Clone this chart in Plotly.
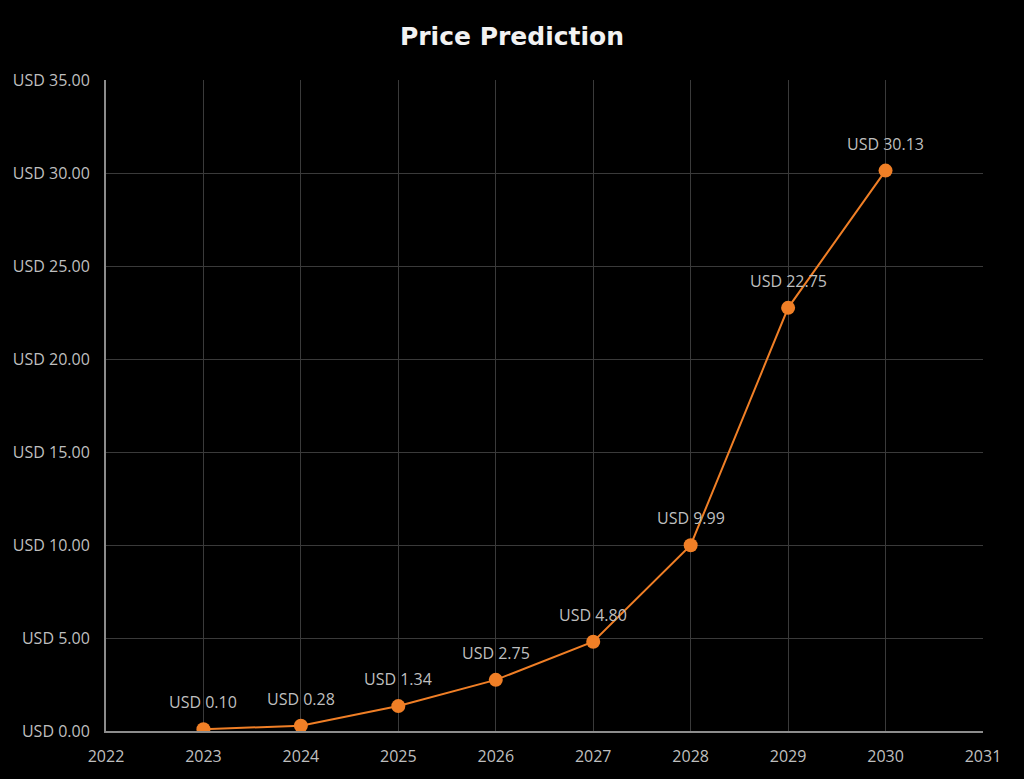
import plotly.graph_objects as go

years = [2023, 2024, 2025, 2026, 2027, 2028, 2029, 2030]
prices = [0.10, 0.28, 1.34, 2.75, 4.80, 9.99, 22.75, 30.13]
labels = ["USD 0.10", "USD 0.28", "USD 1.34", "USD 2.75", "USD 4.80", "USD 9.99", "USD 22.75", "USD 30.13"]
y_ticks = [0, 5, 10, 15, 20, 25, 30, 35]
y_tick_text = ["USD %.2f" % v for v in y_ticks]
x_ticks = list(range(2022, 2032))

orange = "#F07F26"
txt = "#BFBFBF"
fam = "Open Sans, sans-serif"

fig = go.Figure()
fig.add_trace(go.Scatter(
    x=years, y=prices, mode="lines+markers",
    line=dict(color=orange, width=2),
    marker=dict(color=orange, size=14),
    hoverinfo="skip", showlegend=False,
))
for x, y, t in zip(years, prices, labels):
    fig.add_annotation(x=x, y=y, text=t, showarrow=False, yshift=27,
                       font=dict(family=fam, size=16, color=txt))

fig.update_layout(
    width=1024, height=779,
    paper_bgcolor="#000000", plot_bgcolor="#000000",
    margin=dict(l=106, r=41, t=80, b=48),
    title=dict(text="<b>Price Prediction</b>", x=0.5, xanchor="center", y=1 - 36 / 779, yanchor="middle",
               font=dict(family="DejaVu Sans, sans-serif", size=25, color="#F2F2F2")),
    xaxis=dict(range=[2022, 2031], tickvals=x_ticks, ticktext=[str(v) for v in x_ticks],
               showgrid=True, gridcolor="#3A3A3A", gridwidth=1,
               showline=True, linecolor="#8C8C8C", linewidth=2,
               zeroline=False, ticks="", ticklabelstandoff=10,
               tickfont=dict(family=fam, size=16, color=txt)),
    yaxis=dict(range=[0, 35], tickvals=y_ticks, ticktext=y_tick_text,
               showgrid=True, gridcolor="#3A3A3A", gridwidth=1,
               showline=True, linecolor="#8C8C8C", linewidth=2,
               zeroline=False, ticks="", ticklabelstandoff=11,
               tickfont=dict(family=fam, size=16, color=txt)),
)
fig.write_html("out.html", config={"displayModeBar": False},
               post_script="document.body.style.margin='0';document.body.style.background='#000';")
